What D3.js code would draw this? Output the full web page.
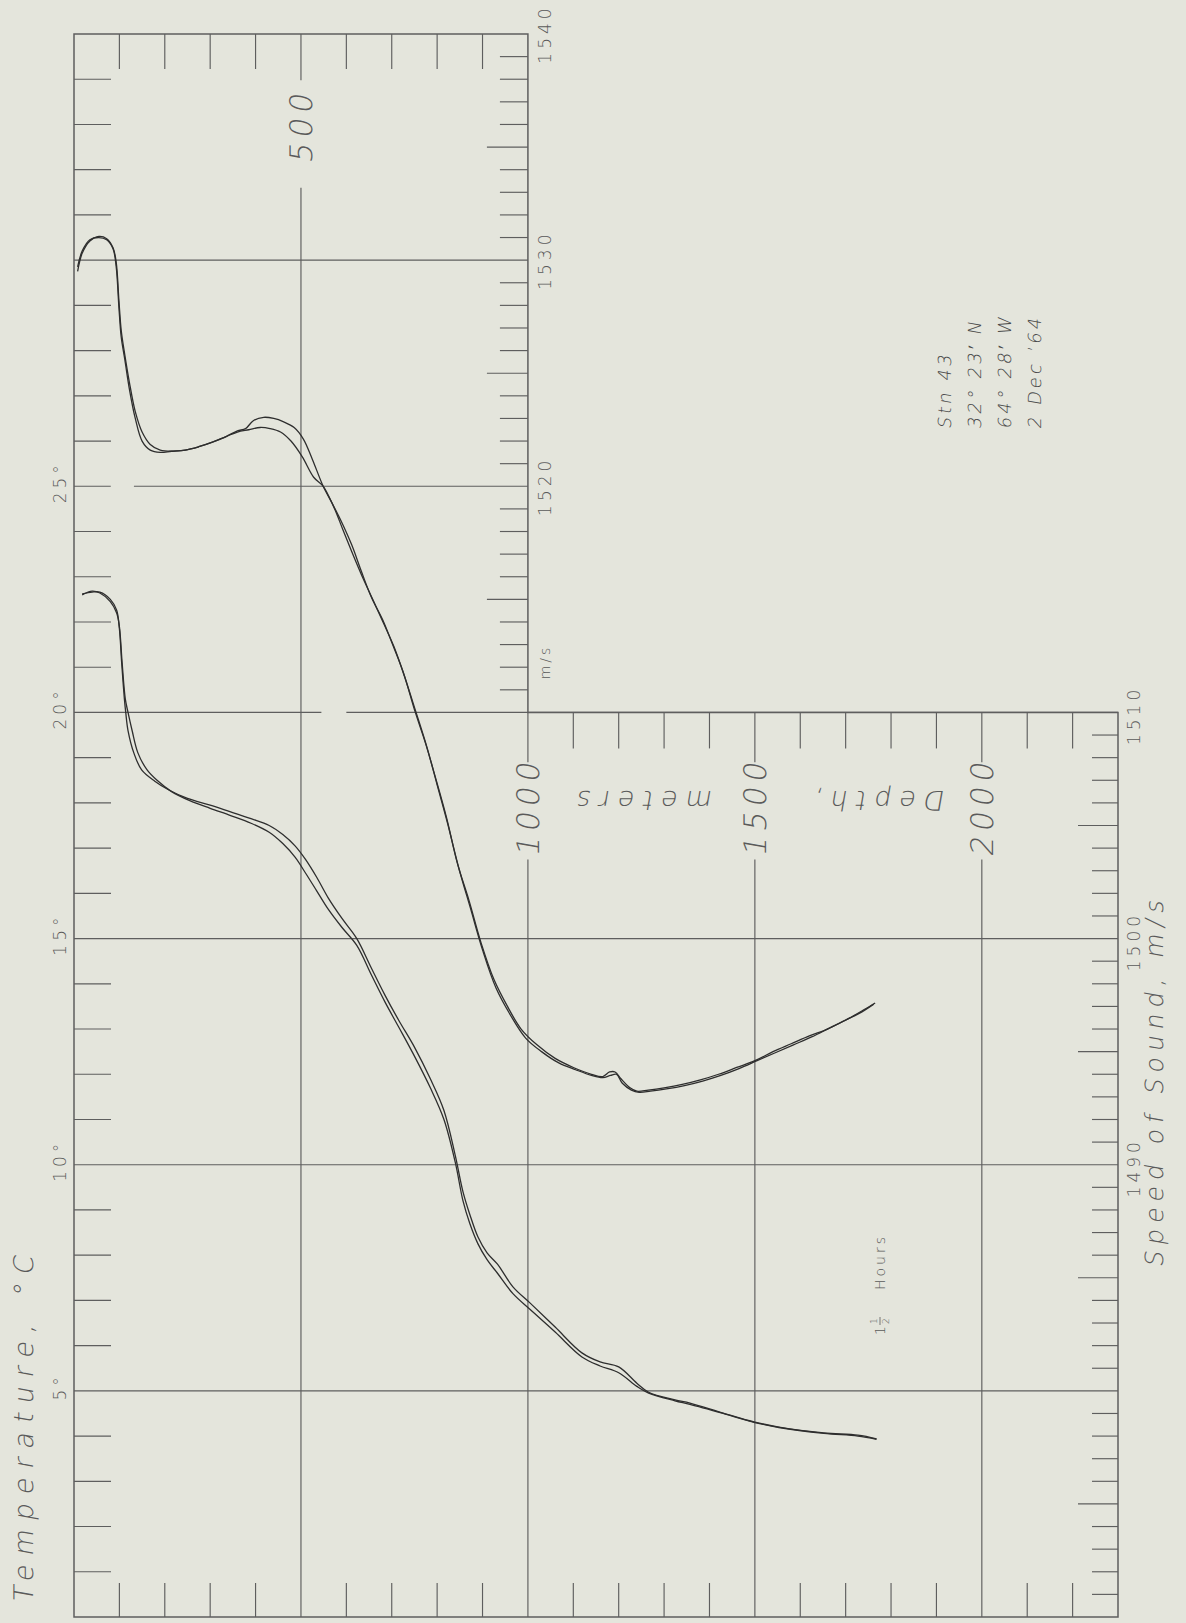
<!DOCTYPE html>
<html>
<head>
<meta charset="utf-8">
<script src="https://cdn.jsdelivr.net/npm/d3@7"></script>
<style>
  html, body { margin: 0; padding: 0; background: #e4e5dc; }
  svg { display: block; }
  text { font-family: "DejaVu Sans", sans-serif; font-weight: 200; fill: #5a5a5a; }
</style>
</head>
<body>
<svg id="chart" width="1186" height="1623"></svg>
<script>
// Sound speed profiles, two casts: [depth m, speed m/s]
const speedCastA = [
  [8,1529.5],[18,1530.3],[35,1530.85],[55,1531.05],[72,1530.95],[86,1530.55],[93,1529.9],[99,1528.2],
  [104,1526.9],[112,1525.8],[122,1524.6],[135,1523.3],[150,1522.4],[168,1521.85],[190,1521.6],[215,1521.55],
  [245,1521.6],[275,1521.75],[305,1521.95],[335,1522.2],[360,1522.45],[378,1522.55],[395,1522.9],[418,1523.05],
  [440,1523.0],[462,1522.85],[485,1522.6],[505,1522.1],[525,1521.2],[549,1520.0],[570,1519.2],[590,1518.4],
  [612,1517.4],[632,1516.3],[655,1515.1],[680,1514.1],[700,1513.1],[725,1511.8],[752,1510.0],[775,1508.6],
  [798,1507.0],[820,1505.4],[845,1503.3],[870,1501.7],[897,1499.8],[925,1498.2],[955,1497.0],[985,1496.0],
  [1020,1495.3],[1060,1494.7],[1100,1494.3],[1140,1494.0],[1165,1493.9],[1180,1494.1],[1192,1494.1],[1205,1493.8],
  [1225,1493.4],[1240,1493.25],[1265,1493.3],[1300,1493.4],[1340,1493.55],[1380,1493.75],[1420,1494.0],[1460,1494.3],
  [1500,1494.6],[1540,1495.0],[1580,1495.35],[1620,1495.7],[1660,1496.0],[1700,1496.4],[1735,1496.75],[1762,1497.1]
];
const speedCastB = [
  [8,1529.7],[18,1530.4],[35,1530.9],[55,1531.0],[72,1530.9],[86,1530.5],[93,1529.7],[99,1527.9],
  [104,1526.6],[112,1525.6],[122,1524.3],[135,1523.0],[150,1522.0],[168,1521.6],[190,1521.5],[215,1521.55],
  [245,1521.6],[275,1521.75],[305,1521.95],[335,1522.2],[360,1522.4],[385,1522.5],[410,1522.6],[432,1522.55],
  [455,1522.4],[478,1522.0],[503,1521.3],[528,1520.4],[549,1520.0],[572,1519.1],[592,1518.1],[612,1517.1],
  [633,1516.1],[658,1515.0],[683,1513.9],[705,1512.9],[728,1511.6],[752,1510.1],[777,1508.5],[800,1506.8],
  [823,1505.1],[848,1503.1],[874,1501.3],[900,1499.5],[930,1497.8],[962,1496.6],[995,1495.6],[1030,1495.0],
  [1068,1494.5],[1105,1494.2],[1140,1493.95],[1165,1493.85],[1182,1493.95],[1195,1494.0],[1208,1493.6],[1228,1493.3],
  [1245,1493.2],[1270,1493.25],[1305,1493.35],[1345,1493.5],[1385,1493.7],[1425,1493.95],[1465,1494.25],[1505,1494.6],
  [1545,1494.95],[1585,1495.3],[1625,1495.65],[1665,1496.05],[1705,1496.45],[1740,1496.85],[1765,1497.15]
];

// Temperature profiles, two casts: [depth m, temperature °C]
const tempCastA = [
  [18,22.62],[40,22.66],[57,22.66],[80,22.5],[94,22.26],[100,21.85],[105,21.1],[111,20.3],[114,20.0],
  [119,19.6],[132,19.1],[149,18.73],[178,18.48],[210,18.28],[250,18.1],[300,17.95],[345,17.8],[390,17.65],
  [430,17.5],[460,17.3],[487,17.05],[510,16.75],[535,16.35],[560,15.9],[590,15.45],[623,15.0],[655,14.35],
  [685,13.75],[715,13.2],[750,12.6],[785,11.9],[815,11.2],[840,10.2],[857,9.4],[872,8.9],[890,8.4],
  [910,8.05],[933,7.8],[967,7.3],[1005,6.94],[1060,6.41],[1119,5.84],[1159,5.64],[1200,5.53],[1240,5.17],
  [1266,4.97],[1324,4.8],[1357,4.73],[1430,4.51],[1500,4.31],[1553,4.2],[1652,4.07],[1727,4.02],[1768,3.94]
];
const tempCastB = [
  [18,22.6],[40,22.68],[57,22.64],[80,22.45],[94,22.2],[100,21.9],[106,21.1],[113,20.3],[119,20.0],
  [128,19.6],[141,19.1],[161,18.73],[183,18.5],[215,18.25],[255,18.05],[300,17.88],[345,17.72],[390,17.55],
  [430,17.35],[460,17.1],[487,16.8],[510,16.45],[535,16.05],[560,15.65],[590,15.25],[623,14.85],[655,14.2],
  [685,13.6],[715,13.05],[750,12.4],[785,11.7],[815,11.0],[840,10.05],[857,9.2],[872,8.7],[890,8.25],
  [910,7.9],[933,7.6],[967,7.15],[1005,6.8],[1060,6.3],[1119,5.75],[1159,5.55],[1200,5.4],[1240,5.1],
  [1266,4.95],[1324,4.78],[1357,4.7],[1430,4.5],[1500,4.3],[1553,4.19],[1652,4.06],[1727,4.0],[1768,3.93]
];

// Axis annotations
const depthLabels = [500, 1000, 1500, 2000];
const tempLabels = [5, 10, 15, 20, 25];
const speedLabelsUpper = [1520, 1530, 1540];
const speedLabelsLower = [1490, 1500, 1510];
const stationLines = ["Stn 43", "32\u00B0 23\u2032 N", "64\u00B0 28\u2032 W", "2 Dec \u201964"];

const svg = d3.select("#chart");

// Depth runs left to right; temperature and sound speed share the vertical axis
const xDepth = d3.scaleLinear().domain([0, 2300]).range([74, 1118]);
const yTemp = d3.scaleLinear().domain([0, 35]).range([1617, 34]);
const ySpeed = d3.scaleLinear().domain([1470, 1540]).range([1617, 34]);

const ink = "#5e5e5e";
const grid = svg.append("g").attr("fill", "none").attr("stroke", ink).attr("stroke-width", 1.15);

// Stepped outer frame: upper block ends at 1000 m, lower block at 2300 m
grid.append("path")
  .attr("stroke-width", 1.5)
  .attr("d", `M${xDepth(0)},${yTemp(35)} H${xDepth(1000)} V${yTemp(20)} H${xDepth(2300)} V${yTemp(0)} H${xDepth(0)} Z`);

const hLine = (t, d0, d1) => grid.append("line")
  .attr("x1", xDepth(d0)).attr("x2", xDepth(d1)).attr("y1", yTemp(t)).attr("y2", yTemp(t));
const vLine = (d, t0, t1) => grid.append("line")
  .attr("x1", xDepth(d)).attr("x2", xDepth(d)).attr("y1", yTemp(t0)).attr("y2", yTemp(t1));

// Temperature grid lines (every 5 °C)
[5, 10, 15].forEach(t => hLine(t, 0, 2300));
hLine(20, 0, 545); hLine(20, 600, 2300);
hLine(25, 0, 81); hLine(25, 132, 1000);
hLine(30, 0, 1000);

// Depth grid lines, broken around their labels
vLine(500, 35, 33.98); vLine(500, 31.6, 0);
[1000, 1500, 2000].forEach(d => { vLine(d, 20, 18.9); vLine(d, 16.75, 0); });

// Minor ticks
d3.range(1, 35).filter(t => t % 5 !== 0).forEach(t =>
  grid.append("line").attr("x1", xDepth(0)).attr("x2", xDepth(0) + 37).attr("y1", yTemp(t)).attr("y2", yTemp(t)));
d3.range(100, 1000, 100).filter(d => d % 500 !== 0).forEach(d =>
  grid.append("line").attr("x1", xDepth(d)).attr("x2", xDepth(d)).attr("y1", yTemp(35)).attr("y2", yTemp(35) + 35));
d3.range(1100, 2300, 100).filter(d => d % 500 !== 0).forEach(d =>
  grid.append("line").attr("x1", xDepth(d)).attr("x2", xDepth(d)).attr("y1", yTemp(20)).attr("y2", yTemp(20) + 36));
d3.range(100, 2300, 100).filter(d => d % 500 !== 0).forEach(d =>
  grid.append("line").attr("x1", xDepth(d)).attr("x2", xDepth(d)).attr("y1", yTemp(0)).attr("y2", yTemp(0) - 34));
d3.range(1511, 1540).filter(s => s % 10 !== 0).forEach(s =>
  grid.append("line").attr("x1", xDepth(1000)).attr("x2", xDepth(1000) - (s % 5 === 0 ? 41 : 28))
    .attr("y1", ySpeed(s)).attr("y2", ySpeed(s)));
d3.range(1471, 1510).filter(s => s % 10 !== 0).forEach(s =>
  grid.append("line").attr("x1", xDepth(2300)).attr("x2", xDepth(2300) - (s % 5 === 0 ? 40 : 26))
    .attr("y1", ySpeed(s)).attr("y2", ySpeed(s)));

// Profiles
const curves = svg.append("g").attr("fill", "none").attr("stroke", "#2e2e2e")
  .attr("stroke-width", 1.3).attr("stroke-linejoin", "round");
const speedLine = d3.line().x(d => xDepth(d[0])).y(d => ySpeed(d[1])).curve(d3.curveCatmullRom.alpha(0.5));
const tempLine = d3.line().x(d => xDepth(d[0])).y(d => yTemp(d[1])).curve(d3.curveCatmullRom.alpha(0.5));
[speedCastA, speedCastB].forEach(c => curves.append("path").attr("d", speedLine(c)));
[tempCastA, tempCastB].forEach(c => curves.append("path").attr("d", tempLine(c)));

// Text helper: rotated label centred on (x, y)
function label(x, y, str, size, spacing, angle, anchor, skew) {
  return svg.append("text")
    .attr("transform", `translate(${x},${y}) rotate(${angle})${skew ? ` skewX(${skew})` : ""}`)
    .attr("text-anchor", anchor || "middle")
    .attr("dominant-baseline", "central")
    .style("font-size", size + "px")
    .style("letter-spacing", spacing + "px")
    .text(str);
}

// Depth labels
label(xDepth(500), 125, "500", 31, 5, -90, "middle", -10);
depthLabels.slice(1).forEach(d => label(xDepth(d), 806, String(d), 31, 5, -90, "middle", -10));
label(640, 800, "meters", 27, 8, 180, "middle", -10);
label(875, 800, "Depth,", 27, 8, 180, "middle", -10);

// Temperature labels
tempLabels.forEach(t => label(60, yTemp(t) - 4, t + "\u00B0", 17, 4, -90));
label(24, 1424, "Temperature, \u00B0C", 27, 9, -90, "middle", -10);

// Sound speed labels
speedLabelsUpper.forEach(s => label(545, ySpeed(s), String(s), 17, 4, -90));
label(545, 662, "m/s", 14, 3, -90);
speedLabelsLower.forEach(s => label(1134, ySpeed(s) + 3, String(s), 17, 4, -90));
label(1155, 1080, "Speed of Sound, m/s", 25, 6, -90, "middle", -10);

// Station block
stationLines.forEach((s, i) => label(945 + i * 30, 428, s, 18, 3, -90, "start", -10).style("fill", "#4a4a4a"));

// Elapsed time between casts
const hrs = svg.append("g").attr("transform", "translate(880,1335) rotate(-90)");
hrs.append("text").attr("x", 0).attr("y", 0).attr("dominant-baseline", "central").style("font-size", "14px").text("1");
hrs.append("text").attr("x", 14).attr("y", -6).attr("text-anchor", "middle").attr("dominant-baseline", "central").style("font-size", "9px").text("1");
hrs.append("line").attr("x1", 10).attr("x2", 18).attr("y1", 0).attr("y2", 0).attr("stroke", "#5a5a5a").attr("stroke-width", 0.8);
hrs.append("text").attr("x", 14).attr("y", 6).attr("text-anchor", "middle").attr("dominant-baseline", "central").style("font-size", "9px").text("2");
hrs.append("text").attr("x", 45).attr("y", 0).attr("dominant-baseline", "central").style("font-size", "14px").style("letter-spacing", "3px").text("Hours");
</script>
</body>
</html>
